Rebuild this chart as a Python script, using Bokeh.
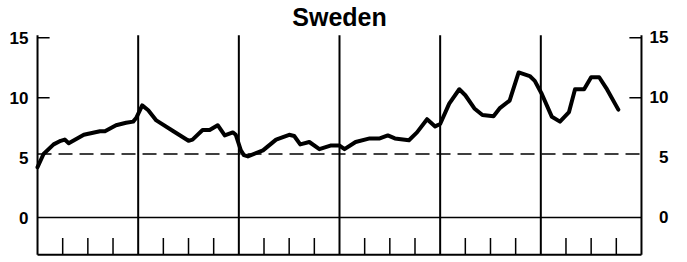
from bokeh.plotting import figure
from bokeh.models import LinearAxis, FixedTicker, Range1d
from bokeh.embed import file_html
from bokeh.resources import INLINE

# --- data -------------------------------------------------------------
title_text = "Sweden"
panel_edges = [0, 1, 2, 3, 4, 5, 6]            # year boundaries
quarter_ticks = [0.25, 0.5, 0.75, 1.25, 1.5, 1.75, 2.25, 2.5, 2.75,
                 3.25, 3.5, 3.75, 4.25, 4.5, 4.75, 5.25, 5.5, 5.75]
y_ticks = [0, 5, 10, 15]
ref_level = 5.3
y_bottom = -3.1
y_top = 15
quarter_tick_top = -1.7

t = [0.00, 0.06, 0.16, 0.23, 0.27, 0.31, 0.46, 0.62, 0.67, 0.78, 0.88, 0.95,
     0.98, 1.04, 1.10, 1.18, 1.35, 1.50, 1.54, 1.64, 1.71, 1.79, 1.86, 1.94,
     1.97, 2.02, 2.05, 2.09, 2.24, 2.37, 2.50, 2.55, 2.61, 2.70, 2.80, 2.91,
     3.00, 3.05, 3.16, 3.30, 3.40, 3.48, 3.55, 3.69, 3.77, 3.87, 3.95, 4.00,
     4.09, 4.19, 4.25, 4.34, 4.42, 4.53, 4.59, 4.69, 4.78, 4.89, 4.94, 5.01,
     5.11, 5.19, 5.28, 5.34, 5.43, 5.50, 5.58, 5.65, 5.77]
rate = [4.2, 5.3, 6.1, 6.4, 6.5, 6.2, 6.9, 7.2, 7.2, 7.7, 7.9, 8.0,
        8.3, 9.35, 8.95, 8.1, 7.2, 6.4, 6.5, 7.3, 7.3, 7.7, 6.85, 7.1,
        6.9, 5.6, 5.2, 5.1, 5.6, 6.5, 6.9, 6.8, 6.1, 6.3, 5.7, 6.0,
        6.0, 5.7, 6.3, 6.6, 6.6, 6.85, 6.6, 6.45, 7.1, 8.2, 7.6, 7.8,
        9.5, 10.7, 10.2, 9.1, 8.55, 8.45, 9.1, 9.75, 12.1, 11.8, 11.4, 10.3,
        8.4, 8.0, 8.8, 10.7, 10.7, 11.7, 11.7, 10.8, 9.0]

# --- figure -----------------------------------------------------------
p = figure(frame_width=612, frame_height=226, x_range=Range1d(-0.04, 6.04),
           y_range=Range1d(-3.25, 15.6), output_backend="svg",
           toolbar_location=None, x_axis_location=None, y_axis_location=None,
           min_border_left=33, min_border_right=26, min_border_top=0,
           min_border_bottom=0, title=title_text)
p.grid.visible = False
p.outline_line_color = None
p.title.align = "center"
p.title.text_font = "Liberation Sans"
p.title.text_font_size = "25px"
p.title.text_font_style = "bold"
p.title.text_color = "black"
p.title.standoff = 0

for side in ("left", "right"):
    ax = LinearAxis(ticker=FixedTicker(ticks=y_ticks))
    ax.axis_line_color = None
    ax.major_tick_line_color = None
    ax.minor_tick_line_color = None
    ax.major_tick_out = 0
    ax.major_tick_in = 0
    ax.major_label_text_font = "Liberation Sans"
    ax.major_label_text_font_size = "17px"
    ax.major_label_text_font_style = "bold"
    ax.major_label_text_color = "black"
    if side == "left":
        ax.major_label_standoff = 5
    else:
        ax.major_label_standoff = 4
        # pad single digits with a figure space so labels line up on the right
        ax.major_label_overrides = {v: ("\u2007" + str(v)) if v < 10 else str(v)
                                    for v in y_ticks}
    p.add_layout(ax, side)

first, last = panel_edges[0], panel_edges[-1]

# panel dividers / axis lines
p.segment(x0=panel_edges, y0=[y_bottom] * len(panel_edges),
          x1=panel_edges, y1=[y_top + 0.2] * len(panel_edges),
          line_color="black", line_width=2)
# bottom baseline
p.segment(x0=[first], y0=[y_bottom], x1=[last], y1=[y_bottom],
          line_color="black", line_width=2)
# zero line
p.segment(x0=[first], y0=[0], x1=[last], y1=[0],
          line_color="black", line_width=1.5)
# dashed reference level
p.segment(x0=[first], y0=[ref_level], x1=[last], y1=[ref_level],
          line_color="black", line_width=1.5, line_dash="14 7")
# inward ticks at 10 and 15
tick_len = 0.12
tk = [v for v in y_ticks if v >= 10]
p.segment(x0=[first] * len(tk), y0=tk, x1=[first + tick_len] * len(tk), y1=tk,
          line_color="black", line_width=1.5)
p.segment(x0=[last] * len(tk), y0=tk, x1=[last - tick_len] * len(tk), y1=tk,
          line_color="black", line_width=1.5)
# quarter ticks
p.segment(x0=quarter_ticks, y0=[y_bottom] * len(quarter_ticks),
          x1=quarter_ticks, y1=[quarter_tick_top] * len(quarter_ticks),
          line_color="black", line_width=1.5)

# data series
p.line(t, rate, line_color="black", line_width=4, line_join="round",
       line_cap="round")

open("out.html", "w").write(file_html(p, INLINE))
